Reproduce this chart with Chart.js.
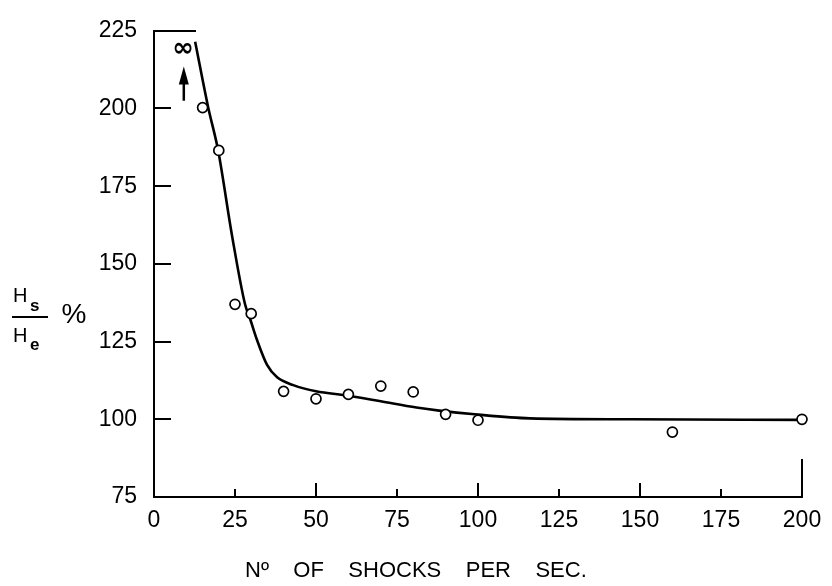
<!DOCTYPE html>
<html><head><meta charset="utf-8">
<script src="https://cdn.jsdelivr.net/npm/chart.js@4"></script>
<style>html,body{margin:0;padding:0;background:#fff;} canvas{display:block;}</style>
</head><body>
<canvas id="c" width="832" height="586"></canvas>
<script>
// ---- data ----
const curveX = [12.7, 16.7, 19.8, 24.1, 28.1, 29.6, 31.8, 34.9, 38, 43, 50, 60, 70, 81, 88, 99, 116, 147, 200];
const curveY = [221.5, 200.5, 186.5, 159, 137, 132.5, 125.5, 117.5, 113.5, 111, 109, 107.6, 105.8, 103.8, 102.8, 101.6, 100.3, 100, 99.8];
const pointX = [15, 20, 25, 30, 40, 50, 60, 70, 80, 90, 100, 160, 200];
const pointY = [200.3, 186.5, 137, 134, 109, 106.6, 108, 110.7, 108.8, 101.6, 99.7, 95.9, 100];
const xTickValues = [0, 25, 50, 75, 100, 125, 150, 175, 200];
const yTickValues = [75, 100, 125, 150, 175, 200, 225];
const xTitle = 'Nº    OF    SHOCKS    PER    SEC.';
const infinityMark = { x: 9, y: 219, text: '∞' };
const arrowMark = { x: 9.2, yFrom: 202.5, yTo: 213.5 };

const INK = '#000';
const FONT = "'Liberation Sans', Arial, sans-serif";

const decor = {
  id: 'decor',
  afterDraw(chart) {
    const { ctx, chartArea: a, scales: { x, y } } = chart;
    ctx.save();
    ctx.strokeStyle = INK; ctx.fillStyle = INK; ctx.lineWidth = 2;
    // inward y ticks
    yTickValues.forEach((v, i) => {
      if (i === 0) return;
      const len = i === yTickValues.length - 1 ? 42 : 17;
      const py = Math.round(y.getPixelForValue(v));
      ctx.beginPath(); ctx.moveTo(a.left, py); ctx.lineTo(a.left + len, py); ctx.stroke();
    });
    // inward x ticks
    xTickValues.forEach((v, i) => {
      if (i === 0) return;
      const len = i === xTickValues.length - 1 ? 38 : (i % 2 === 0 ? 14 : 8);
      const px = Math.round(x.getPixelForValue(v));
      ctx.beginPath(); ctx.moveTo(px, a.bottom); ctx.lineTo(px, a.bottom - len); ctx.stroke();
    });
    // infinity symbol
    ctx.font = "bold 26px 'DejaVu Sans', sans-serif";
    ctx.textAlign = 'center'; ctx.textBaseline = 'middle';
    ctx.fillText(infinityMark.text, x.getPixelForValue(infinityMark.x), y.getPixelForValue(infinityMark.y));
    // arrow
    const ax = x.getPixelForValue(arrowMark.x);
    const y0 = y.getPixelForValue(arrowMark.yFrom), y1 = y.getPixelForValue(arrowMark.yTo);
    ctx.lineWidth = 2.5;
    ctx.beginPath(); ctx.moveTo(ax, y0); ctx.lineTo(ax, y1 + 12); ctx.stroke();
    ctx.beginPath(); ctx.moveTo(ax, y1); ctx.lineTo(ax - 5, y1 + 18); ctx.lineTo(ax + 5, y1 + 18); ctx.closePath(); ctx.fill();
    ctx.lineWidth = 2;
    // x-axis title
    ctx.font = `22px ${FONT}`;
    ctx.textAlign = 'left'; ctx.textBaseline = 'alphabetic';
    ctx.fillText(xTitle, 245, 577);
    // y-axis title: Hs / He %
    ctx.font = `20px ${FONT}`;
    ctx.fillText('H', 13, 302);
    ctx.fillText('H', 13, 342);
    ctx.font = `bold 17px ${FONT}`;
    ctx.fillText('s', 30, 311);
    ctx.fillText('e', 30, 350);
    ctx.beginPath(); ctx.moveTo(12, 317); ctx.lineTo(48, 317); ctx.stroke();
    ctx.font = `28px ${FONT}`;
    ctx.textAlign = 'center'; ctx.textBaseline = 'middle';
    ctx.fillText('%', 74, 315);
    ctx.restore();
  }
};

const curve = curveX.map((v, i) => ({ x: v, y: curveY[i] }));
const points = pointX.map((v, i) => ({ x: v, y: pointY[i] }));

new Chart(document.getElementById('c'), {
  type: 'scatter',
  data: {
    datasets: [
      { label: 'measured', data: points, showLine: false, pointRadius: 5, pointBorderWidth: 1.7,
        pointBackgroundColor: '#fff', pointBorderColor: INK, order: 0, clip: false },
      { label: 'curve', data: curve, showLine: true, pointRadius: 0, borderColor: INK, borderWidth: 2.6,
        cubicInterpolationMode: 'monotone', fill: false, order: 1, clip: false }
    ]
  },
  options: {
    responsive: false,
    animation: false,
    layout: { padding: { left: 0, right: 30, top: 20, bottom: 0 } },
    plugins: { legend: { display: false }, tooltip: { enabled: false } },
    scales: {
      x: {
        type: 'linear', min: 0, max: 200,
        afterBuildTicks: s => { s.ticks = xTickValues.map(v => ({ value: v })); },
        afterFit: s => { s.height = 89; },
        grid: { display: false, drawTicks: false },
        border: { display: true, color: INK, width: 2 },
        ticks: { color: INK, font: { family: FONT, size: 23 }, padding: 10, maxRotation: 0 }
      },
      y: {
        type: 'linear', min: 75, max: 225,
        afterBuildTicks: s => { s.ticks = yTickValues.map(v => ({ value: v })); },
        afterFit: s => { s.width = 154; },
        grid: { display: false, drawTicks: false },
        border: { display: true, color: INK, width: 2 },
        ticks: { color: INK, font: { family: FONT, size: 23 }, padding: 17 }
      }
    }
  },
  plugins: [decor]
});
</script>
</body></html>
